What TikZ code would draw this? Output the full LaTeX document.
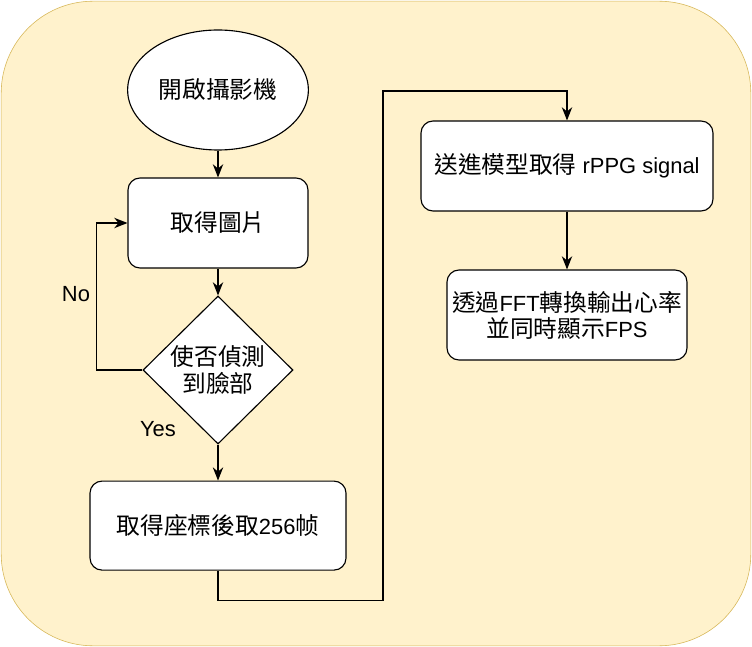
\documentclass[tikz,border=0pt]{standalone}
\usepackage{fontspec}
\setmainfont{Liberation Sans}
\newfontfamily\cjk[Scale=1.08]{Noto Sans CJK TC}
\usepackage{xcolor}
\usetikzlibrary{shapes.geometric,arrows.meta}

\definecolor{bgfill}{HTML}{FFF2CC}
\definecolor{bgline}{HTML}{D6B656}

\begin{document}
\begin{tikzpicture}[
    ->,
    >={Stealth[length=3.3mm,width=2.6mm]},
    thick,
    font=\fontsize{15.6}{18.5}\selectfont
]

\tikzstyle{proc}=[
    rectangle,
    rounded corners=0.3cm,
    draw,
    fill=white,
    minimum width=4.5cm,
    minimum height=2.25cm,
    align=center
]

\tikzstyle{choice}=[
    diamond,
    draw,
    fill=white,
    inner sep=0pt,
    minimum width=3.75cm,
    minimum height=3.7cm,
    align=center
]

\useasboundingbox (0,0) rectangle (18.8,-16.175);
\filldraw[-, fill=bgfill, draw=bgline, thin, rounded corners=2.3cm] (0.03,-0.03) rectangle (18.77,-16.145);


\node[ellipse, draw, fill=white, minimum width=4.5cm, minimum height=3cm] (cam) at (5.45,-2.25) {{\cjk 開啟攝影機}};
\node[proc] (img) at (5.45,-5.575) {{\cjk 取得圖片}};
\node[choice] (dec) at (5.45,-9.25) {{\cjk 使否偵測}\\{\cjk 到臉部}};
\node[proc, minimum width=6.4cm, minimum height=2.225cm] (crop) at (5.45,-13.14) {{\cjk 取得座標後取}256{\cjk 帧}};

\node[proc, minimum width=7.3cm] (model) at (14.175,-4.15) {{\cjk 送進模型取得} rPPG signal};
\node[proc, minimum width=6cm] (fft) at (14.175,-7.875) {{\cjk 透過}FFT{\cjk 轉換輸出心率}\\{\cjk 並同時顯示}FPS};

\node (no) at (1.9,-7.35) {No};
\node (yes) at (3.95,-10.725) {Yes};

\coordinate (bend) at (9.575,-2.275);

\draw (cam) -- (img);
\draw (img) -- (dec);
\draw (dec) -- (crop);
\draw (dec.west) -- ++(-1.15,0) |- (img.west);
\draw (crop.south) -- ++(0,-0.75) -| (bend) -| (model.north);
\draw (model) -- (fft);

\end{tikzpicture}
\end{document}
